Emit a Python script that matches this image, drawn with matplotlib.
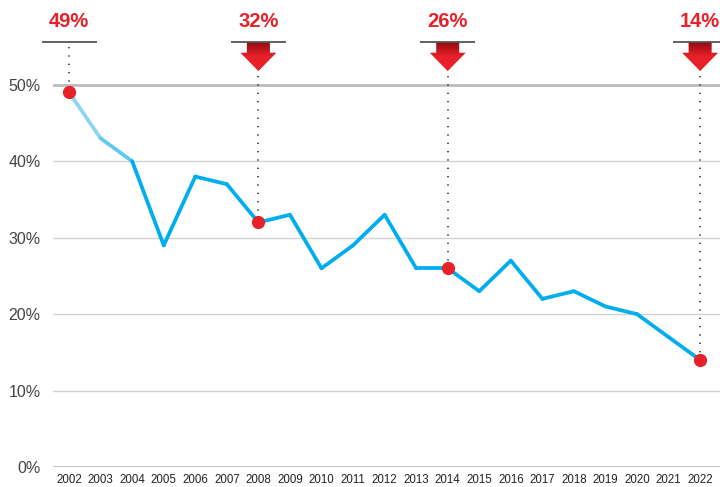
import matplotlib
matplotlib.use("Agg")
import matplotlib.pyplot as plt
import numpy as np
from matplotlib.collections import LineCollection
from matplotlib.patches import Polygon
from matplotlib.colors import LinearSegmentedColormap

years = [2002, 2003, 2004, 2005, 2006, 2007, 2008, 2009, 2010, 2011, 2012,
         2013, 2014, 2015, 2016, 2017, 2018, 2019, 2020, 2021, 2022]
share = [49, 43, 40, 29, 38, 37, 32, 33, 26, 29, 33,
         26, 26, 23, 27, 22, 23, 21, 20, 17, 14]
callout_years = [2002, 2008, 2014, 2022]
callout_labels = ["49%", "32%", "26%", "14%"]
callout_arrow = [False, True, True, True]
ytick_vals = [0, 10, 20, 30, 40, 50]

RED = "#e8202a"
BLUE = "#00aeef"

plt.rcParams['font.family'] = ['Liberation Sans', 'DejaVu Sans']

fig = plt.figure(figsize=(7.2, 4.87), dpi=100)
ax = fig.add_axes([53 / 720, 20 / 487, 667 / 720, 467 / 487])
for s in ax.spines.values():
    s.set_visible(False)

# grid
for v in ytick_vals:
    if v in (0, 50):
        ax.axhline(v, color="#bcbcc0", lw=2, zorder=1)
    else:
        ax.axhline(v, color="#d2d2d5", lw=1, zorder=1)

# line, lighter at the start
pts = np.column_stack([years, share])
segs = [pts[i:i + 2] for i in range(len(pts) - 1)]
seg_colors = ["#8dd6f3", "#5fc9f2"] + [BLUE] * (len(segs) - 2)
lc = LineCollection(segs, colors=seg_colors, linewidths=2.7, capstyle="round",
                    joinstyle="round", zorder=3)
ax.add_collection(lc)

# callouts
grad = LinearSegmentedColormap.from_list("arr", ["#8a0a10", RED, RED])
top, shaft_end, tip = 55.6, 54.2, 51.8
for yr, lab, arrow in zip(callout_years, callout_labels, callout_arrow):
    val = share[years.index(yr)]
    ax.text(yr, 57.6, lab, ha="center", va="baseline", color=RED,
            fontsize=14.5, fontweight="bold", zorder=5)
    ax.plot([yr - 0.87, yr + 0.87], [top, top], color="#555555", lw=1.3,
            solid_capstyle="butt", zorder=5, clip_on=False)
    start = tip if arrow else top
    ax.plot([yr, yr], [start - 0.6, val], color="#333333", lw=1.2,
            linestyle=(0, (0.8, 4.2)), zorder=2)
    if arrow:
        sw, hw = 0.365, 0.57
        poly = Polygon([(yr - sw, top), (yr + sw, top), (yr + sw, shaft_end),
                        (yr + hw, shaft_end), (yr, tip), (yr - hw, shaft_end),
                        (yr - sw, shaft_end)], closed=True, facecolor="none",
                       edgecolor="none")
        ax.add_patch(poly)
        g = np.linspace(0, 1, 64).reshape(-1, 1)
        im = ax.imshow(g, cmap=grad, extent=[yr - hw, yr + hw, tip, top],
                       origin="upper", aspect="auto", zorder=4)
        im.set_clip_path(poly)
    ax.plot(yr, val, "o", color=RED, markersize=8.5, zorder=6)

ax.set_xlim(2001.49, 2022.63)
ax.set_ylim(0, 61.1)

ax.set_yticks(ytick_vals)
ax.set_yticklabels([f"{v}%" for v in ytick_vals], fontsize=11.5, color="#444444")
ax.set_xticks(years)
ax.set_xticklabels([str(y) for y in years], fontsize=8.3, color="#222222")
ax.tick_params(axis="y", length=0, pad=9)
ax.tick_params(axis="x", length=0, pad=5)

fig.savefig("out.png", dpi=100)
